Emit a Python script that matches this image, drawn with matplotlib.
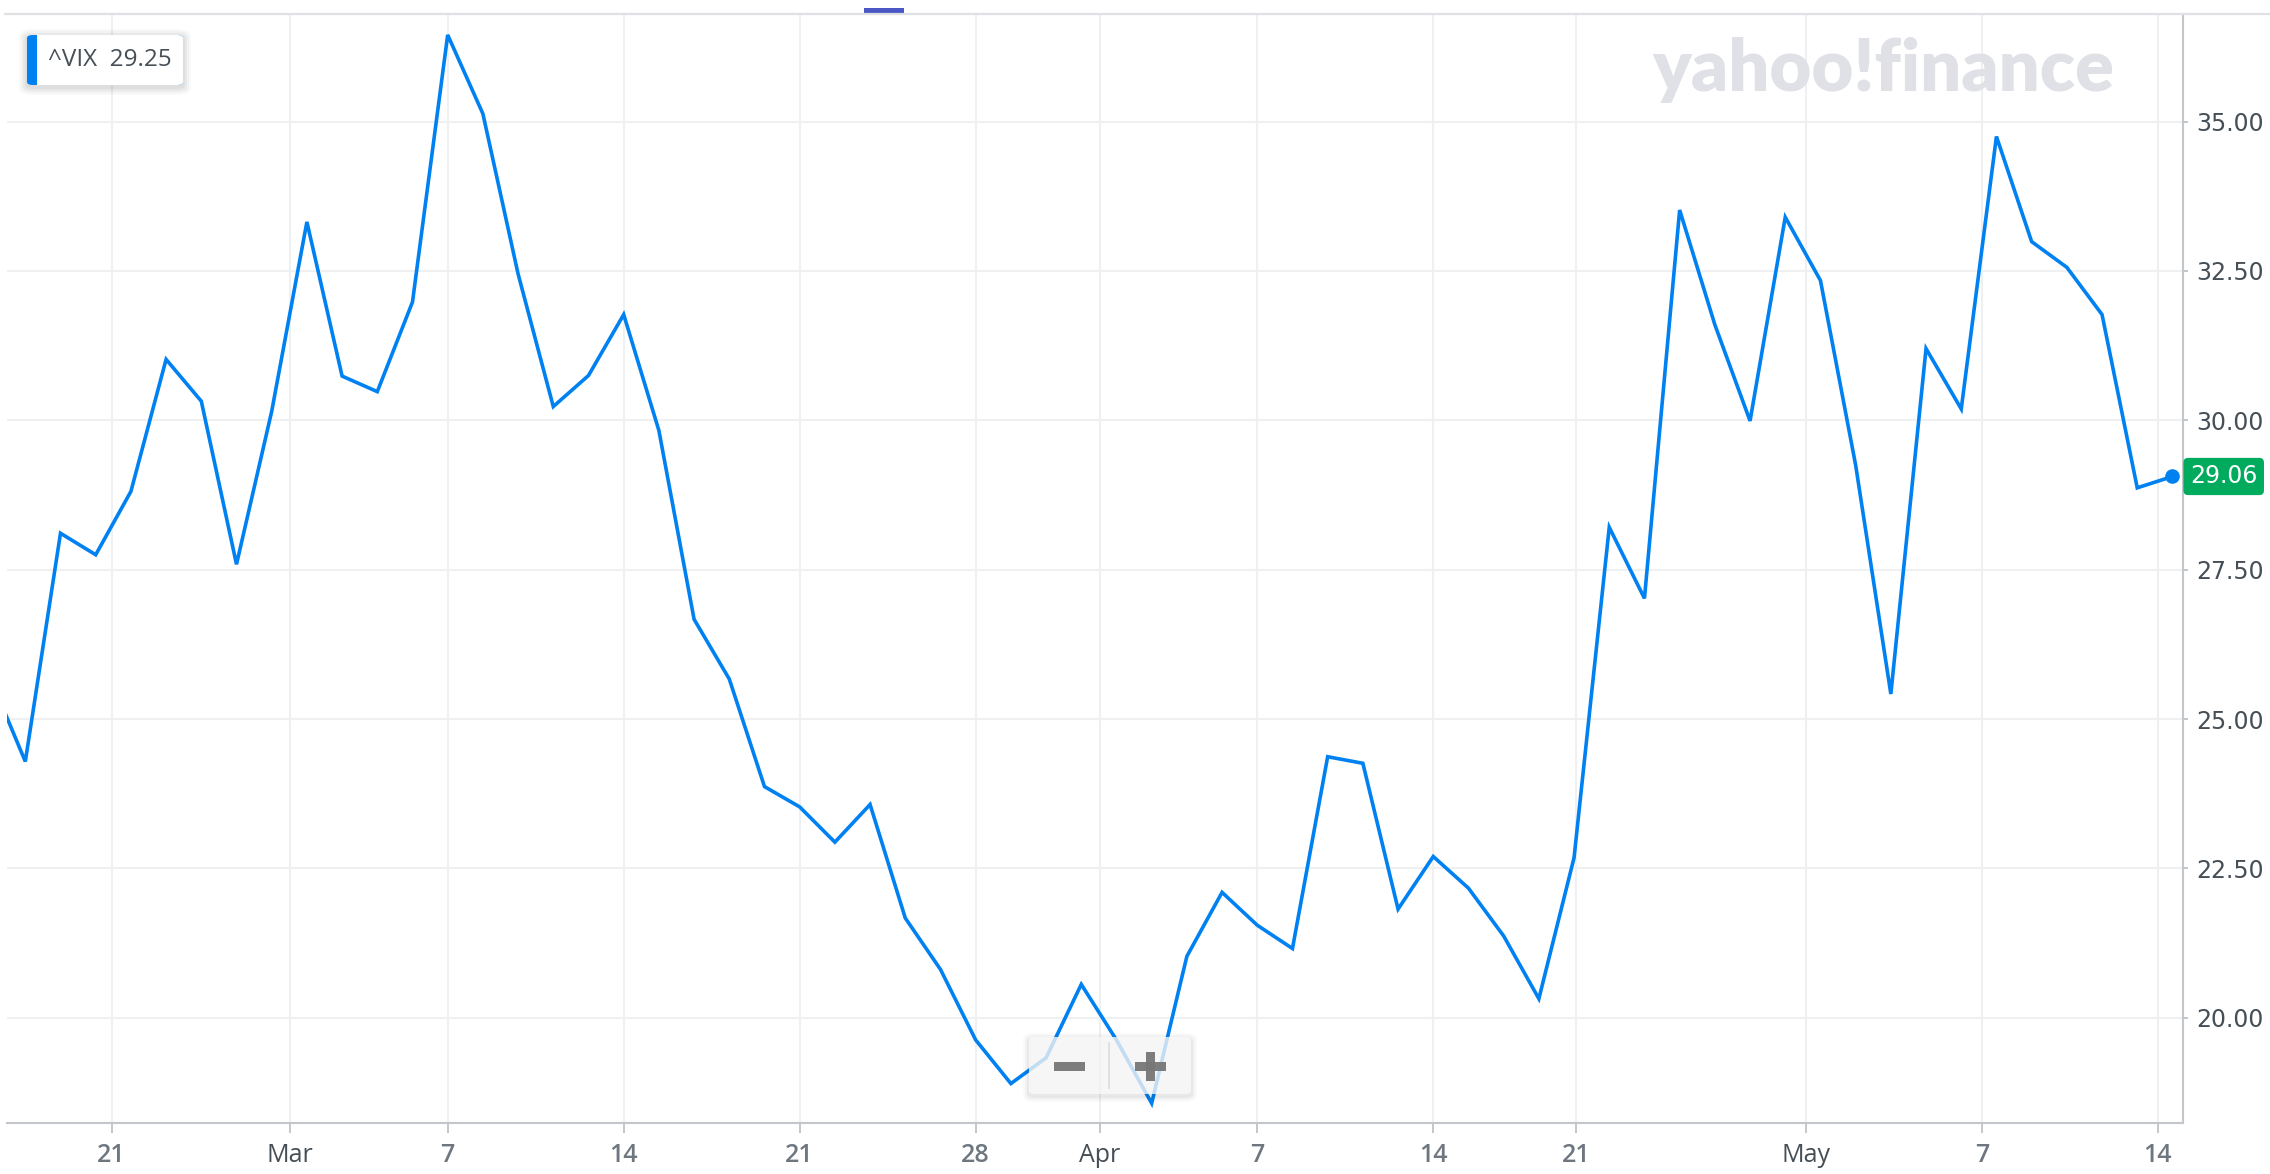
import numpy as np
import matplotlib
matplotlib.use("Agg")
import matplotlib.pyplot as plt
from matplotlib.patches import FancyBboxPatch, Rectangle
from matplotlib.lines import Line2D
import matplotlib.transforms as mtransforms

# ---------------- data ----------------
trade_dates = ["Feb 15", "Feb 16", "Feb 17", "Feb 18", "Feb 22", "Feb 23", "Feb 24", "Feb 25",
               "Feb 28", "Mar 1", "Mar 2", "Mar 3", "Mar 4", "Mar 7", "Mar 8", "Mar 9", "Mar 10",
               "Mar 11", "Mar 14", "Mar 15", "Mar 16", "Mar 17", "Mar 18", "Mar 21", "Mar 22",
               "Mar 23", "Mar 24", "Mar 25", "Mar 28", "Mar 29", "Mar 30", "Mar 31", "Apr 1",
               "Apr 4", "Apr 5", "Apr 6", "Apr 7", "Apr 8", "Apr 11", "Apr 12", "Apr 13", "Apr 14",
               "Apr 18", "Apr 19", "Apr 20", "Apr 21", "Apr 22", "Apr 25", "Apr 26", "Apr 27",
               "Apr 28", "Apr 29", "May 2", "May 3", "May 4", "May 5", "May 6", "May 9", "May 10",
               "May 11", "May 12", "May 13", "May 16"]
vix_close = [25.70, 24.29, 28.11, 27.75, 28.81, 31.02, 30.32, 27.59, 30.15, 33.32, 30.74, 30.48,
             31.98, 36.45, 35.13, 32.45, 30.23, 30.75, 31.77, 29.83, 26.67, 25.67, 23.87, 23.53,
             22.94, 23.57, 21.67, 20.81, 19.63, 18.90, 19.33, 20.56, 19.63, 18.57, 21.03, 22.10,
             21.55, 21.16, 24.37, 24.26, 21.82, 22.70, 22.17, 21.37, 20.32, 22.68, 28.21, 27.02,
             33.52, 31.60, 29.99, 33.40, 32.34, 29.25, 25.42, 31.20, 30.19, 34.75, 32.99, 32.56,
             31.77, 28.87, 29.06]
x_tick_pos = [2.45, 7.51, 12.0, 17.0, 22.0, 27.0, 30.53, 35.0, 40.0, 44.05, 50.59, 55.59, 60.58]
x_tick_labels = ["21", "Mar", "7", "14", "21", "28", "Apr", "7", "14", "21", "May", "7", "14"]
y_ticks = [20.0, 22.5, 25.0, 27.5, 30.0, 32.5, 35.0]
ticker = "^VIX"
hover_value = "29.25"
last_value = vix_close[-1]

# ---------------- style ----------------
W, H = 2270, 1174
LINE_BLUE = "#0081f2"
AXIS_GRAY = "#c3c7cc"
GRID_GRAY = "#eff0f2"
DARK_TXT = "#464e56"
NUM_TXT = "#6e7780"
GREEN = "#00ab5e"

fig = plt.figure(figsize=(W / 100, H / 100), dpi=100)
fig.patch.set_facecolor("white")

ax_l, ax_r, ax_t, ax_b = 7, 2183, 14, 1123
ax = fig.add_axes([ax_l / W, (H - ax_b) / H, (ax_r - ax_l) / W, (ax_b - ax_t) / H])
ax.set_facecolor("none")

x = np.arange(len(vix_close)) - 1
ax.plot(x, vix_close, color=LINE_BLUE, lw=2.6, solid_joinstyle="miter", zorder=5)
ax.plot([x[-1]], [last_value], "o", color=LINE_BLUE, ms=9.5, zorder=6, clip_on=False)

ax.set_xlim(-0.52, 61.3)
ax.set_ylim(18.24, 36.80)

# grid
for xp in x_tick_pos:
    ax.axvline(xp, color=GRID_GRAY, lw=1.5, zorder=1)
for yp in y_ticks:
    ax.axhline(yp, color=GRID_GRAY, lw=1.5, zorder=1)

# spines
for s in ["left", "top"]:
    ax.spines[s].set_visible(False)
ax.spines["right"].set_color(AXIS_GRAY)
ax.spines["right"].set_linewidth(1.5)
ax.spines["bottom"].set_color(AXIS_GRAY)
ax.spines["bottom"].set_linewidth(1.5)

# ticks
ax.set_xticks(x_tick_pos)
ax.set_xticklabels(x_tick_labels)
ax.tick_params(axis="x", length=7.5, width=1.4, color=AXIS_GRAY, pad=7)
for lbl in ax.get_xticklabels():
    lbl.set_fontfamily(["Open Sans", "DejaVu Sans"])
    lbl.set_fontsize(18)
    if lbl.get_text().isdigit():
        lbl.set_color(NUM_TXT)
        lbl.set_fontweight("semibold")
    else:
        lbl.set_color(DARK_TXT)

ax.yaxis.tick_right()
ax.set_yticks(y_ticks)
ax.set_yticklabels([f"{v:.2f}" for v in y_ticks])
ax.tick_params(axis="y", length=3.8, width=1.4, color=AXIS_GRAY, pad=6,
               labelsize=17, labelcolor=DARK_TXT)
for lbl in ax.get_yticklabels():
    lbl.set_fontfamily("DejaVu Sans")

# last price tag
blend = mtransforms.blended_transform_factory(ax.transAxes, ax.transData)
ax.text(1.0 + 7 / (ax_r - ax_l), last_value, f"{last_value:.2f}", transform=blend,
        ha="left", va="center", fontsize=17, color="white", family="DejaVu Sans",
        zorder=10, clip_on=False,
        bbox=dict(boxstyle="round,pad=0.28,rounding_size=0.2", fc=GREEN, ec="none"))

# top border line across the figure
fig.add_artist(Line2D([5 / W, 1.0], [(H - 14) / H] * 2, color="#dfe1e5", lw=1.6,
                      transform=fig.transFigure))
# small blue navigator mark on top
fig.add_artist(Rectangle((864 / W, (H - 14) / H), 40 / W, 6 / H, transform=fig.transFigure,
                         fc="#4a57c5", ec="none"))

# yahoo finance watermark
fig.text(1883 / W, (H - 70) / H, "yahoo!finance", ha="center", va="center",
         fontsize=52, fontweight="heavy", family=["Lato", "DejaVu Sans"], color="#dfe1e6",
         zorder=0)

# legend box with shadow
def px_box(x0, y0, x1, y1, **kw):
    return FancyBboxPatch((x0 / W, (H - y1) / H), (x1 - x0) / W, (y1 - y0) / H,
                          transform=fig.transFigure, **kw)

for i, a in enumerate([0.025, 0.03, 0.035, 0.04]):
    g = 8 - 2 * i
    fig.add_artist(px_box(27 - g, 35 - g + 2, 183 + g, 85 + g + 2,
                          boxstyle=f"round,pad=0,rounding_size={(6 + g) / W}",
                          fc="black", ec="none", alpha=a))
fig.add_artist(px_box(27, 35, 183, 85, boxstyle=f"round,pad=0,rounding_size={6 / W}",
                      fc=LINE_BLUE, ec="none"))
fig.add_artist(px_box(37, 35, 183, 85, boxstyle=f"round,pad=0,rounding_size={6 / W}",
                      fc="white", ec="none"))
fig.add_artist(Rectangle((37 / W, (H - 85) / H), 12 / W, 50 / H, transform=fig.transFigure,
                         fc="white", ec="none"))
fig.text(48 / W, (H - 60) / H, f"{ticker}  {hover_value}", ha="left", va="center",
         fontsize=17.5, family=["Open Sans", "DejaVu Sans"], color=DARK_TXT)

# zoom buttons (semi-transparent over the line)
for i, a in enumerate([0.02, 0.03, 0.04]):
    g = 6 - 2 * i
    fig.add_artist(px_box(1029 - g, 1037 - g + 2, 1191 + g, 1094 + g + 2,
                          boxstyle=f"round,pad=0,rounding_size={(6 + g) / W}",
                          fc="black", ec="none", alpha=a, zorder=20))
fig.add_artist(px_box(1029, 1037, 1191, 1094, boxstyle=f"round,pad=0,rounding_size={6 / W}",
                      fc="#fafafa", ec="none", alpha=0.78, zorder=21))
fig.add_artist(Line2D([1109 / W] * 2, [(H - 1043) / H, (H - 1088) / H], color="#dcdcdc",
                      lw=1.2, transform=fig.transFigure, zorder=22))
fig.add_artist(Rectangle((1054 / W, (H - 1071) / H), 31 / W, 9 / H, transform=fig.transFigure,
                         fc="#777777", ec="none", alpha=0.95, zorder=22))
fig.add_artist(Rectangle((1135 / W, (H - 1071) / H), 31 / W, 9 / H, transform=fig.transFigure,
                         fc="#777777", ec="none", alpha=0.95, zorder=22))
fig.add_artist(Rectangle((1146 / W, (H - 1081) / H), 9 / W, 29 / H, transform=fig.transFigure,
                         fc="#777777", ec="none", alpha=0.95, zorder=22))

fig.savefig("out.png", dpi=100, facecolor="white")
